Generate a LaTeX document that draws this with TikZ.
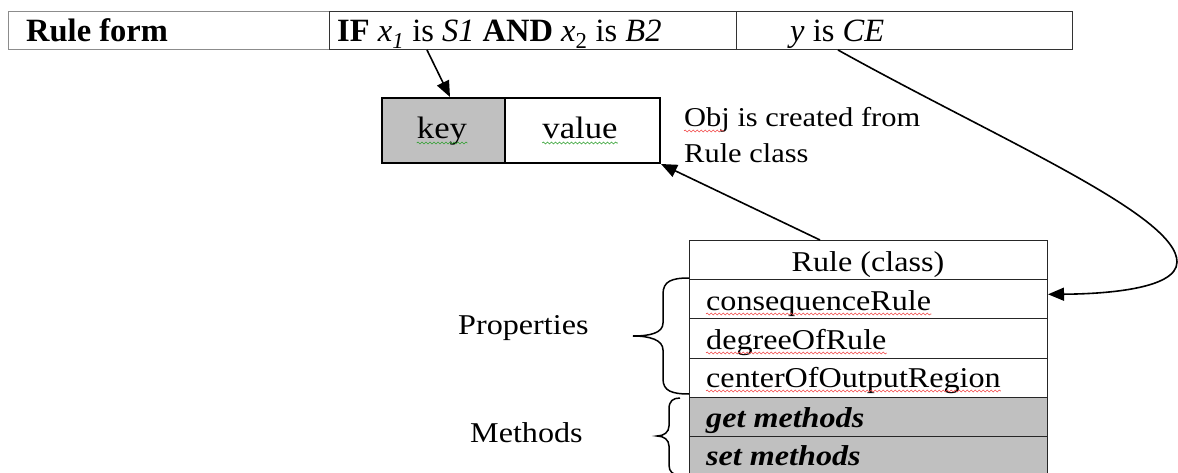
\documentclass[tikz,border=0pt]{standalone}
\usepackage{fontspec}
\setmainfont{Liberation Serif}
\newfontfamily\wf[FakeStretch=1.12]{Liberation Serif}
\usetikzlibrary{arrows.meta,decorations.pathmorphing}
\definecolor{boxgray}{HTML}{C0C0C0}
\definecolor{spellred}{HTML}{F04848}
\definecolor{spellgreen}{HTML}{30A030}
\tikzset{
  cellbox/.style={draw=black!80, line width=1pt, inner sep=0pt, anchor=north west, minimum height=38pt},
  kvbox/.style={draw=black, line width=2pt, inner sep=0pt, anchor=north west, minimum height=65pt},
  rowbox/.style={draw=black!85, line width=1pt, inner sep=0pt, anchor=north west, minimum width=358pt, minimum height=39.2pt},
  txt/.style={inner sep=0pt, anchor=base west},
  toptxt/.style={txt, font={\fontsize{32.5pt}{36pt}\selectfont}},
  kvtxt/.style={inner sep=0pt, anchor=base, font={\wf\fontsize{31pt}{34pt}\selectfont}},
  bodytxt/.style={txt, font={\wf\fontsize{27.2pt}{32pt}\selectfont}},
  rowtxt/.style={txt, font={\wf\fontsize{28.7pt}{32pt}\selectfont}},
  arr/.style={line width=1.6pt, -{Triangle[length=16pt,width=13pt]}},
  bracepath/.style={line width=1.5pt},
  squig/.style={line width=0.6pt, decorate, decoration={snake, segment length=4pt, amplitude=1pt}}
}
\begin{document}
\begin{tikzpicture}[x=1pt,y=-1pt]
\useasboundingbox (0,0) rectangle (1178,473);
% top table
\node[cellbox, draw=black!45, minimum width=321pt] (rfcell) at (8,11) {};
\node[cellbox, minimum width=407pt] (ifcell) at (329,11) {};
\node[cellbox, minimum width=336pt] (ycell) at (736,11) {};
\node[toptxt] (rftxt) at (26,42) {\textbf{Rule form}};
\node[toptxt] (iftxt) at (337,42) {\textbf{IF} \textit{x}\textsubscript{\textit{1}} is \textit{S1} \textbf{AND} \textit{x}\textsubscript{2} is \textit{B2}};
\node[toptxt] (ytxt) at (790,42) {\textit{y} is \textit{CE}};
% key / value
\node[kvbox, fill=boxgray, minimum width=123pt] (key) at (381,97) {};
\node[kvbox, minimum width=155pt] (value) at (504,97) {};
\node[kvtxt] (keytxt) at (442,139) {key};
\node[kvtxt] (valuetxt) at (580,139) {value};
\draw[squig, spellgreen] ([yshift=-4pt]keytxt.base west) -- ([yshift=-4pt]keytxt.base east);
\draw[squig, spellgreen] ([yshift=-4pt]valuetxt.base west) -- ([yshift=-4pt]valuetxt.base east);
\node[bodytxt] (objtxt) at (684,127) {Obj is created from};
\node[bodytxt] (ruletxt) at (684,163) {Rule class};
\draw[squig, spellred] (684,131) -- (724,131);
% class box
\node[rowbox] (hdr) at (689,240) {};
\node[rowbox] (cons) at (689,279.2) {};
\node[rowbox] (deg) at (689,318.4) {};
\node[rowbox] (cen) at (689,357.6) {};
\node[rowbox, fill=boxgray] (get) at (689,396.8) {};
\node[rowbox, fill=boxgray] (set) at (689,436) {};
\node[rowtxt, anchor=base] (hdrtxt) at (868,271) {Rule (class)};
\node[rowtxt] (constxt) at (706,310) {consequenceRule};
\node[rowtxt] (degtxt) at (706,349) {degreeOfRule};
\node[rowtxt] (centxt) at (706,387) {centerOfOutputRegion};
\node[rowtxt] (gettxt) at (706,427) {\textbf{\textit{get methods}}};
\node[rowtxt] (settxt) at (706,465) {\textbf{\textit{set methods}}};
\draw[squig, spellred] ([yshift=-4pt]constxt.base west) -- ([yshift=-4pt]constxt.base east);
\draw[squig, spellred] ([yshift=-4pt]degtxt.base west) -- ([yshift=-4pt]degtxt.base east);
\draw[squig, spellred] ([yshift=-4pt]centxt.base west) -- ([yshift=-4pt]centxt.base east);
% braces and labels
\node[rowtxt] (proptxt) at (458,334) {Properties};
\node[rowtxt] (methtxt) at (470,442) {Methods};
\draw[bracepath] (689,278) .. controls (672,278) and (663,281) .. (663,294) -- (663,323)
  .. controls (663,333) and (650,336) .. (633,336)
  .. controls (650,336) and (663,340) .. (663,350) -- (663,379)
  .. controls (663,391) and (672,394) .. (689,394);
\draw[bracepath] (680,398) .. controls (673,398) and (669,401) .. (669,409) -- (669,426)
  .. controls (669,432) and (664,436) .. (657,436)
  .. controls (664,436) and (669,440) .. (669,446) -- (669,465)
  .. controls (669,472) and (673,475) .. (680,475);
% connectors
\draw[arr] ([xshift=98pt]ifcell.south west) -- ([xshift=69pt]key.north west);
\draw[arr] ([xshift=131pt]hdr.north west) -- (value.south east);
\draw[arr] ([xshift=102pt]ycell.south west) .. controls (1000,140) and (1177,215) .. (1177,262)
  .. controls (1177,290) and (1100,294) .. ([yshift=5pt]cons.east);
\end{tikzpicture}
\end{document}
